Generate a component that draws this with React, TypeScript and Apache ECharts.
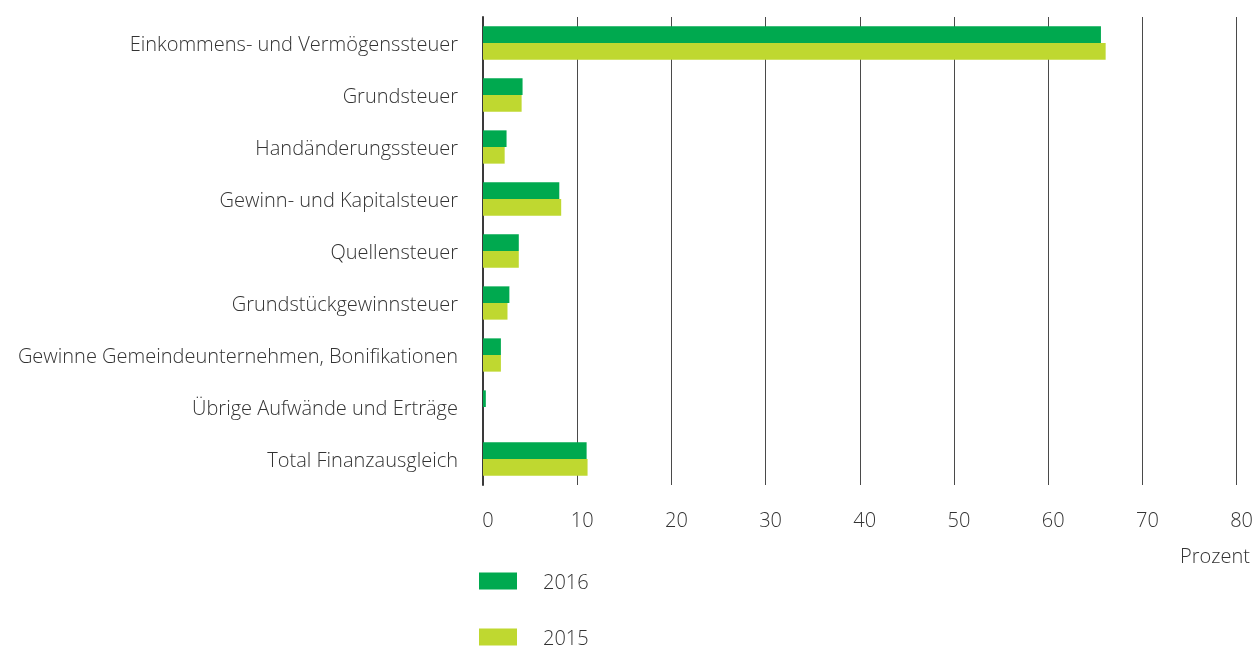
import React, { useEffect, useRef } from "react";
import * as echarts from "echarts";

const categories = [
  "Einkommens- und Vermögenssteuer",
  "Grundsteuer",
  "Handänderungssteuer",
  "Gewinn- und Kapitalsteuer",
  "Quellensteuer",
  "Grundstückgewinnsteuer",
  "Gewinne Gemeindeunternehmen, Bonifikationen",
  "Übrige Aufwände und Erträge",
  "Total Finanzausgleich",
];
const values2016 = [65.6, 4.2, 2.5, 8.1, 3.8, 2.8, 1.9, 0.3, 11.0];
const values2015 = [66.1, 4.1, 2.3, 8.3, 3.8, 2.6, 1.9, 0, 11.1];
const seriesNames = ["2016", "2015"];
const xTicks = { min: 0, max: 80, interval: 10 };
const axisTitle = "Prozent";

const FONT = "'Open Sans'";
const TEXT = "#333333";
const SIZE = 20;

export default function App() {
  const ref = useRef<HTMLDivElement>(null);
  useEffect(() => {
    const chart = echarts.init(ref.current!, null, { renderer: "svg" });
    const legendText = {
      fontFamily: FONT,
      fontSize: SIZE,
      fontWeight: 300,
      color: TEXT,
      padding: [0, 0, 0, 21],
    };
    chart.setOption({
      animation: false,
      textStyle: { fontFamily: FONT },
      grid: { left: 483, right: 18, top: 17, bottom: 164, containLabel: false },
      legend: [
        {
          left: 474,
          top: 566,
          padding: 5,
          itemWidth: 38,
          itemHeight: 17,
          icon: "rect",
          data: [seriesNames[0]],
          textStyle: legendText,
        },
        {
          left: 474,
          top: 622,
          padding: 5,
          itemWidth: 38,
          itemHeight: 17,
          icon: "rect",
          data: [seriesNames[1]],
          textStyle: legendText,
        },
      ],
      xAxis: {
        type: "value",
        min: xTicks.min,
        max: xTicks.max,
        interval: xTicks.interval,
        axisLine: { show: false },
        axisTick: { show: false },
        splitLine: { show: true, lineStyle: { color: "#4a4a4a", width: 1 } },
        axisLabel: {
          margin: 24,
          fontFamily: FONT,
          fontSize: SIZE,
          fontWeight: 300,
          color: TEXT,
          padding: [0, 0, 0, 10],
        },
      },
      yAxis: {
        type: "category",
        inverse: true,
        data: categories,
        axisLine: { show: true, lineStyle: { color: "#3a3a3a", width: 2 } },
        axisTick: { show: false },
        axisLabel: {
          margin: 25,
          fontFamily: FONT,
          fontSize: SIZE,
          fontWeight: 300,
          color: TEXT,
        },
      },
      graphic: [
        {
          type: "text",
          right: 6,
          top: 545,
          style: { text: axisTitle, font: `300 ${SIZE}px ${FONT}`, fill: TEXT },
        },
      ],
      series: [
        {
          name: seriesNames[0],
          type: "bar",
          data: values2016,
          barGap: "0%",
          barCategoryGap: "36%",
          itemStyle: { color: "#00A94F" },
        },
        {
          name: seriesNames[1],
          type: "bar",
          data: values2015,
          barGap: "0%",
          barCategoryGap: "36%",
          itemStyle: { color: "#BFD830" },
        },
      ],
    });
    return () => chart.dispose();
  }, []);
  return (
    <div
      ref={ref}
      style={{ position: "fixed", left: 0, top: 0, width: 1256, height: 649 }}
    />
  );
}
